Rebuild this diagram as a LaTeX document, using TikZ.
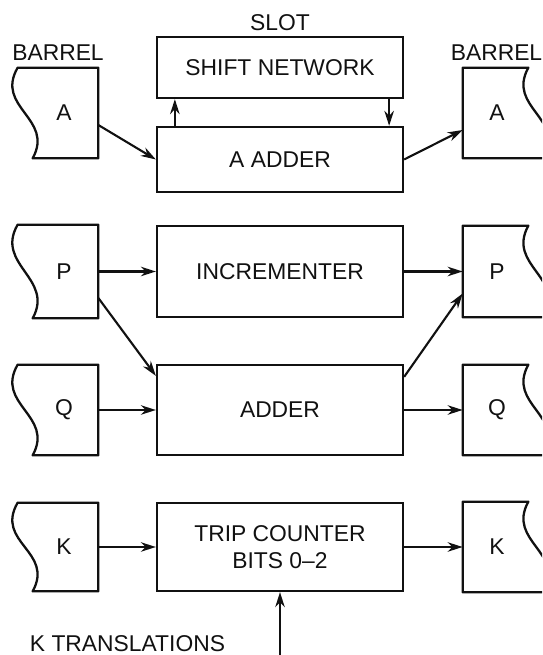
\documentclass[tikz,border=0pt]{standalone}
\usepackage{fontspec}
\setsansfont{Liberation Sans}
\usepackage{tikz}
\usetikzlibrary{arrows.meta, positioning, calc}
\definecolor{tinta}{HTML}{111111}
\tikzset{
  every picture/.style={font=\sffamily, >=Stealth},
  bloque/.style={draw=tinta, text=tinta, line width=1.3pt, minimum width=4.92cm,
              font=\sffamily\fontsize{13}{15.5}\selectfont, align=center},
  barril/.style={text=tinta, minimum width=1.36cm, minimum height=1.8cm,
              font=\sffamily\fontsize{13}{15.5}\selectfont},
  contorno/.style={draw=tinta, line width=1.3pt, line join=round},
  etiq/.style={text=tinta, inner sep=0pt, font=\sffamily\fontsize{13}{15.5}\selectfont},
  flecha/.style={-{Stealth[length=3mm, width=1.9mm]}, line width=1.2pt, tinta},
}
\newcommand{\barrilizq}[1]{\draw[contorno] (#1.north east) -- (#1.south east) -- ($(#1.south west)+(0.06,0)$)
  .. controls +(0.44,0.8) and +(-0.46,-0.8) .. ($(#1.north west)+(-0.24,0)$) -- cycle;}
\newcommand{\barrilder}[1]{\draw[contorno] (#1.south west) -- (#1.north west) -- ($(#1.north east)+(-0.06,0)$)
  .. controls +(-0.44,-0.8) and +(0.46,0.8) .. ($(#1.south east)+(0.24,0)$) -- cycle;}

\begin{document}
\begin{tikzpicture}
  \useasboundingbox (0,0) rectangle (10.84,13.1);
  \clip (0,0) rectangle (10.84,13.1);
  \node[bloque, minimum height=1.22cm] (desp) at (5.6,11.75) {SHIFT NETWORK};
  \node[bloque, minimum height=1.3cm] (sumaA) at (5.6,9.91) {A ADDER};
  \node[bloque, minimum height=1.82cm] (inc) at (5.6,7.67) {INCREMENTER};
  \node[bloque, minimum height=1.8cm] (sum) at (5.6,4.9) {ADDER};
  \node[bloque, minimum height=1.76cm] (trip) at (5.6,2.16) {TRIP COUNTER\\BITS 0--2};
  \node[barril] (ba) at (1.28,10.84) {A};   \barrilizq{ba}
  \node[barril] (bad) at (9.94,10.84) {A};  \barrilder{bad}
  \node[barril, minimum height=1.86cm] (bp) at (1.28,7.67) {P};  \barrilizq{bp}
  \node[barril, minimum height=1.82cm] (bpd) at (9.94,7.67) {P};  \barrilder{bpd}
  \node[barril] (bq) at (1.28,4.9) {Q};   \barrilizq{bq}
  \node[barril] (bqd) at (9.94,4.9) {Q};  \barrilder{bqd}
  \node[barril, minimum height=1.76cm] (bk) at (1.28,2.16) {K};   \barrilizq{bk}
  \node[barril] (bkd) at (9.94,2.16) {K};  \barrilder{bkd}
  \node[etiq, above=0.1cm of desp] (slot) {SLOT};
  \node[etiq] (barrilizq) at (1.16,12.05) {BARREL};
  \node[etiq] (barrilder) at (9.93,12.04) {BARREL};
  \node[etiq] (ktr) at (2.55,0.23) {K TRANSLATIONS};
  \coordinate (kt) at (5.6,0);
  \draw[flecha] ([yshift=-0.24cm]ba.east) -- (sumaA.west);
  \draw[flecha] (sumaA.east) -- ([yshift=-0.34cm]bad.west);
  \draw[flecha] ([xshift=0.38cm]sumaA.north west) -- ([xshift=0.38cm]desp.south west);
  \draw[flecha] ([xshift=-0.3cm]desp.south east) -- ([xshift=-0.3cm]sumaA.north east);
  \draw[flecha] (bp.east) -- (inc.west);
  \draw[flecha] ([yshift=-0.53cm]bp.east) -- ([yshift=-0.24cm]sum.north west);
  \draw[flecha] (inc.east) -- (bpd.west);
  \draw[flecha] ([yshift=-0.26cm]sum.north east) -- ([yshift=-0.44cm]bpd.west);
  \draw[flecha] (bq.east) -- (sum.west);
  \draw[flecha] (sum.east) -- (bqd.west);
  \draw[flecha] (bk.east) -- (trip.west);
  \draw[flecha] (trip.east) -- (bkd.west);
  \draw[flecha] (kt) -- (trip.south);
\end{tikzpicture}
\end{document}
